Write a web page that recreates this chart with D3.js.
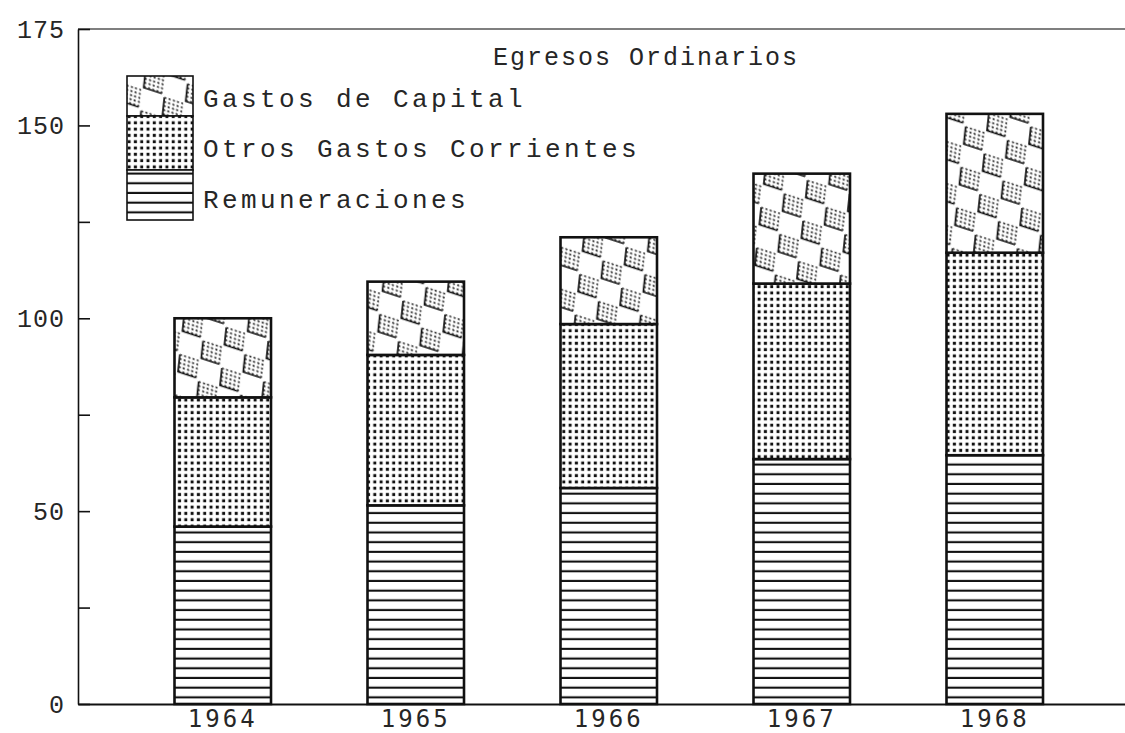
<!DOCTYPE html>
<html><head><meta charset="utf-8">
<script src="https://cdn.jsdelivr.net/npm/d3@7"></script>
<style>
html,body{margin:0;padding:0;background:#fff;}
svg{display:block;}
text{font-family:"Liberation Mono","DejaVu Sans Mono",monospace;fill:#262626;}
</style></head>
<body>
<svg id="chart" width="1125" height="733"></svg>
<script>
const years = ["1964","1965","1966","1967","1968"];
const remuneraciones = [46, 51.5, 56, 63.5, 64.5];
const otrosGastos = [33.5, 39, 42.5, 45.5, 52.5];
const gastosCapital = [20.5, 19, 22.5, 28.5, 36];
const seriesKeys = ["Remuneraciones","Otros Gastos Corrientes","Gastos de Capital"];
const yTicks = [0, 25, 50, 75, 100, 125, 150, 175];
const yTickLabels = ["0","","50","","100","","150","175"];
const title = "Egresos Ordinarios";
const legendOrder = ["Gastos de Capital","Otros Gastos Corrientes","Remuneraciones"];

const svg = d3.select("#chart");
const W = 1125, H = 733;
const x0 = 78, yBottom = 704, yTop = 29;

const x = d3.scaleBand().domain(years).range([x0, 1139.5]).paddingInner(0.5).paddingOuter(0.5);
const y = d3.scaleLinear().domain([0, 175]).range([yBottom, yTop]);

// patterns
const defs = svg.append("defs");
const pH = defs.append("pattern").attr("id","pRem").attr("patternUnits","userSpaceOnUse")
  .attr("width",20).attr("height",9.7);
pH.append("rect").attr("width",20).attr("height",9.7).attr("fill","#fff");
pH.append("rect").attr("x",0).attr("y",7.6).attr("width",20).attr("height",2.1).attr("fill","#111");
const pD = defs.append("pattern").attr("id","pDots").attr("patternUnits","userSpaceOnUse")
  .attr("width",6.3).attr("height",6.3);
pD.append("rect").attr("width",6.3).attr("height",6.3).attr("fill","#fff");
pD.append("rect").attr("x",1.6).attr("y",1.6).attr("width",3).attr("height",3).attr("fill","#111");
const pF = defs.append("pattern").attr("id","pFine").attr("patternUnits","userSpaceOnUse")
  .attr("width",4.2).attr("height",4.2);
pF.append("rect").attr("width",4.2).attr("height",4.2).attr("fill","#fff");
pF.append("circle").attr("cx",2.1).attr("cy",2.1).attr("r",1).attr("fill","#111");
const c = 21;
const pC = defs.append("pattern").attr("id","pCap").attr("patternUnits","userSpaceOnUse")
  .attr("width",2*c).attr("height",2*c).attr("patternTransform","skewY(18) skewX(-6)");
pC.append("rect").attr("width",2*c).attr("height",2*c).attr("fill","#fff");
[[0,0],[c,c]].forEach(([a,b])=>{
  pC.append("rect").attr("x",a+1).attr("y",b+1).attr("width",c-2).attr("height",c-2).attr("fill","url(#pFine)");
  pC.append("path").attr("d",`M${a+1},${b+2} L${a+1},${b+c-1} L${a+c-2},${b+c-1}`)
    .attr("fill","none").attr("stroke","#111").attr("stroke-width",1.6);
});

const fills = {"Remuneraciones":"url(#pRem)","Otros Gastos Corrientes":"url(#pDots)","Gastos de Capital":"url(#pCap)"};

const table = years.map((yr,i)=>({year:yr,"Remuneraciones":remuneraciones[i],"Otros Gastos Corrientes":otrosGastos[i],"Gastos de Capital":gastosCapital[i]}));
const stacked = d3.stack().keys(seriesKeys)(table);

// top frame line
svg.append("line").attr("x1",x0).attr("x2",W).attr("y1",y(175)).attr("y2",y(175))
  .attr("stroke","#555").attr("stroke-width",1.3);

// bars
const layers = svg.append("g").selectAll("g").data(stacked).join("g").attr("fill",d=>fills[d.key]);
layers.selectAll("rect").data(d=>d).join("rect")
  .attr("x",d=>x(d.data.year)).attr("width",x.bandwidth())
  .attr("y",d=>y(d[1])).attr("height",d=>y(d[0])-y(d[1]))
  .attr("stroke","#111").attr("stroke-width",2.6);

// y axis
const yAxis = d3.axisLeft(y).tickValues(yTicks).tickFormat((d,i)=>yTickLabels[i]).tickSize(-12).tickSizeOuter(0).tickPadding(13);
const gy = svg.append("g").attr("transform",`translate(${x0},0)`).call(yAxis);
gy.select(".domain").attr("stroke","#111").attr("stroke-width",1.6);
gy.selectAll(".tick line").attr("stroke","#111").attr("stroke-width",1.6);
gy.selectAll(".tick text").attr("font-size",25).attr("letter-spacing",1).attr("fill","#3a3a3a")
  .style("font-family","'Liberation Mono',monospace");

// x axis
const xAxis = d3.axisBottom(x).tickSize(0).tickPadding(6);
const gx = svg.append("g").attr("transform",`translate(0,${yBottom})`).call(xAxis);
gx.select(".domain").attr("stroke","#111").attr("stroke-width",1.8);
gx.selectAll(".tick text").attr("font-size",24).attr("letter-spacing",3).attr("fill","#1a1a1a")
  .attr("dy","0.72em")
  .style("font-family","'DejaVu Sans Mono',monospace");

// title
svg.append("text").attr("x",493).attr("y",65).attr("font-size",25).attr("letter-spacing",2)
  .text(title);

// legend
const legTop = 76;
const legH = {"Gastos de Capital":40,"Otros Gastos Corrientes":54,"Remuneraciones":50};
const legBase = {"Gastos de Capital":107,"Otros Gastos Corrientes":157,"Remuneraciones":208};
let yy = legTop;
const lg = svg.append("g");
legendOrder.forEach(k=>{
  lg.append("rect").attr("x",127).attr("y",yy).attr("width",66).attr("height",legH[k])
    .attr("fill",fills[k]).attr("stroke","#111").attr("stroke-width",1.6);
  lg.append("text").attr("x",203).attr("y",legBase[k]).attr("font-size",26).attr("letter-spacing",3.4)
    .text(k);
  yy += legH[k];
});
</script>
</body></html>
